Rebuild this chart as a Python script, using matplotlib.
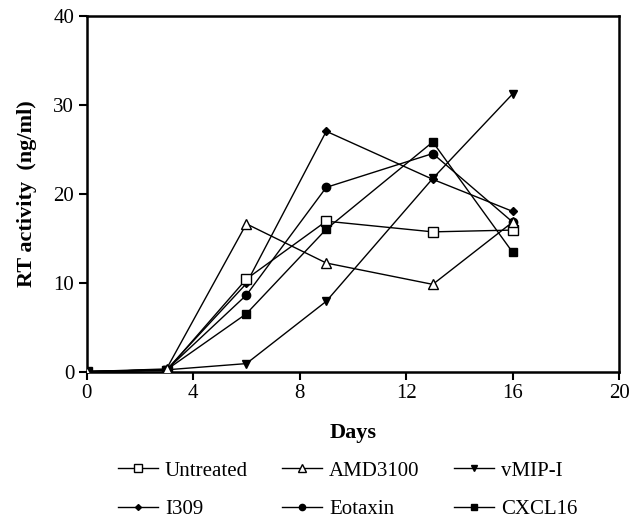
import matplotlib
matplotlib.use('Agg')
import matplotlib.pyplot as plt

plt.rcParams['font.family'] = ['Liberation Serif', 'DejaVu Serif']

# 데이터
days = [0, 3, 6, 9, 13, 16]
untreated = [0, 0.1, 10.4, 16.9, 15.7, 15.9]
amd3100 = [0, 0.3, 16.6, 12.2, 9.8, 16.8]
vmip = [0, 0.2, 0.9, 7.9, 21.7, 31.2]
i309 = [0, 0.2, 9.9, 27.0, 21.6, 18.0]
eotaxin = [0, 0.2, 8.6, 20.7, 24.5, 16.8]
cxcl16 = [0, 0.2, 6.5, 16.0, 25.8, 13.4]

fig = plt.figure(figsize=(6.37, 5.19), dpi=100)
ax = fig.add_axes([0.136, 0.284, 0.836, 0.686])

kw = dict(color='black', linewidth=1.0)
h_u, = ax.plot(days, untreated, marker='s', markersize=7, markerfacecolor='white', markeredgecolor='black', label='Untreated', zorder=3, **kw)
h_a, = ax.plot(days, amd3100, marker='^', markersize=7, markerfacecolor='white', markeredgecolor='black', label='AMD3100', zorder=4, **kw)
h_v, = ax.plot(days, vmip, marker='v', markersize=6, markerfacecolor='black', label='vMIP-I', zorder=3, **kw)
h_i, = ax.plot(days, i309, marker='D', markersize=4, markerfacecolor='black', label='I309', zorder=2, **kw)
h_e, = ax.plot(days, eotaxin, marker='o', markersize=6, markerfacecolor='black', label='Eotaxin', zorder=2, **kw)
h_c, = ax.plot(days, cxcl16, marker='s', markersize=6, markerfacecolor='black', label='CXCL16', zorder=3, **kw)

ax.set_xlim(0, 20)
ax.set_ylim(0, 40)
ax.set_xticks([0, 4, 8, 12, 16, 20])
ax.set_yticks([0, 10, 20, 30, 40])
ax.tick_params(direction='out', length=6, width=1.5, labelsize=15, colors='black', pad=3)
for s in ax.spines.values():
    s.set_linewidth(1.8)
ax.set_xlabel('Days', fontsize=16, fontweight='bold', labelpad=14)
ax.set_ylabel('RT activity  (ng/ml)', fontsize=16, fontweight='bold', labelpad=12)

# 범례: 행 순서대로 보이도록 열 단위로 재배열
handles = [h_u, h_i, h_a, h_e, h_v, h_c]
fig.legend(handles=handles, labels=[h.get_label() for h in handles],
           loc='upper left', bbox_to_anchor=(118 / 637, 1 - 461 / 519), ncol=3,
           frameon=False, fontsize=15, handlelength=1.9, columnspacing=1.65,
           handletextpad=0.35, labelspacing=0.9, borderpad=0, borderaxespad=0,
           markerscale=0.75)

fig.savefig('out.png', dpi=100)
